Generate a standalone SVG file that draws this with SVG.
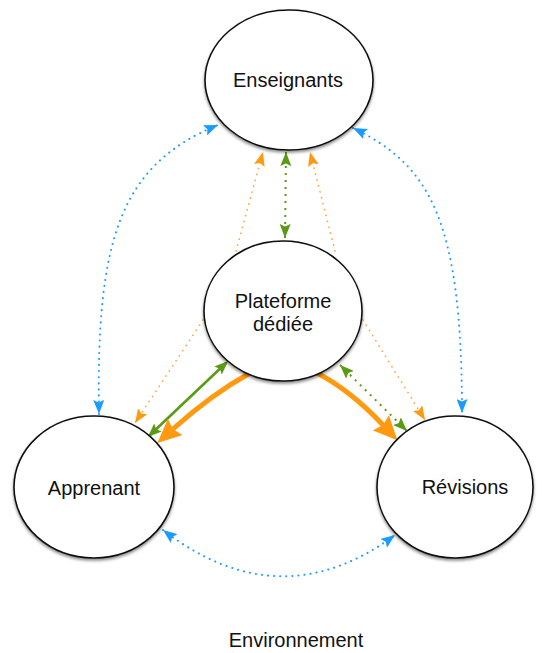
<svg xmlns="http://www.w3.org/2000/svg" width="544" height="653" viewBox="0 0 544 653">
<style>
.node ellipse{fill:#fff;stroke:#111;stroke-width:1.6;filter:url(#sh)}
.lbl{font-family:"Liberation Sans",Arial,sans-serif;font-size:20px;fill:#111;text-anchor:middle}
.blue{fill:none;stroke:#1a9bff;stroke-width:2;stroke-linecap:round;stroke-dasharray:0.1 6}
.odot{fill:none;stroke:#ffa43a;stroke-width:1.7;stroke-linecap:round;stroke-dasharray:0.1 6}
.gdot{fill:none;stroke:#5b9a16;stroke-width:2;stroke-dasharray:2 5}
.gsol{fill:none;stroke:#5b9a16;stroke-width:2.6}
.othick{fill:none;stroke:#ff9a10;stroke-width:5}
</style>
<defs>
<filter id="sh" x="-20%" y="-20%" width="140%" height="140%">
<feDropShadow dx="0" dy="2" stdDeviation="1.8" flood-color="#000" flood-opacity="0.45"/>
</filter>
<marker id="aB" viewBox="0 0 14 11" refX="14" refY="5.5" markerWidth="14" markerHeight="11" markerUnits="userSpaceOnUse" orient="auto-start-reverse"><path d="M0,0 L14,5.5 L0,11 L2.5,5.5 z" fill="#1a9bff"/></marker>
<marker id="aO" viewBox="0 0 14 11" refX="14" refY="5.5" markerWidth="14" markerHeight="11" markerUnits="userSpaceOnUse" orient="auto-start-reverse"><path d="M0,0 L14,5.5 L0,11 L2.5,5.5 z" fill="#ff9a10"/></marker>
<marker id="aG" viewBox="0 0 14 11" refX="14" refY="5.5" markerWidth="14" markerHeight="11" markerUnits="userSpaceOnUse" orient="auto-start-reverse"><path d="M0,0 L14,5.5 L0,11 L2.5,5.5 z" fill="#5b9a16"/></marker>
<marker id="aGs" viewBox="0 0 14 11" refX="11" refY="5.5" markerWidth="14" markerHeight="11" markerUnits="userSpaceOnUse" orient="auto-start-reverse"><path d="M0,0 L14,5.5 L0,11 L2.5,5.5 z" fill="#5b9a16"/></marker>
<marker id="aOB" viewBox="0 0 24 22" refX="3" refY="11" markerWidth="24" markerHeight="22" markerUnits="userSpaceOnUse" orient="auto"><path d="M0,0 L24,11 L0,22 L3,11 z" fill="#ff9a10"/></marker>
</defs>
<g id="connectors">
<path class="blue" d="M99,414 C96,240 120,165 218,125" marker-start="url(#aB)" marker-end="url(#aB)"/>
<path class="blue" d="M353,128 C430,165 462,220 462,413" marker-start="url(#aB)" marker-end="url(#aB)"/>
<path class="blue" d="M163,530 Q280,620 395,535" marker-start="url(#aB)" marker-end="url(#aB)"/>
<path class="odot" d="M236,251 L263,152" marker-end="url(#aO)"/>
<path class="odot" d="M335,251 L310,152" marker-end="url(#aO)"/>
<path class="gdot" d="M286,152 L285,238" marker-start="url(#aG)" marker-end="url(#aG)"/>
<path class="odot" d="M203,320 L135,423" marker-end="url(#aO)"/>
<path class="odot" d="M363,320 L425,420" marker-end="url(#aO)"/>
<path class="gsol" d="M226,363 L150,435" marker-start="url(#aGs)" marker-end="url(#aGs)"/>
<path class="gdot" d="M340,365 L407,431" marker-start="url(#aG)" marker-end="url(#aG)"/>
<path class="othick" d="M250,373 Q212,394 173,429" marker-end="url(#aOB)"/>
<path class="othick" d="M317,373 Q350,390 383,425" marker-end="url(#aOB)"/>
</g>
<g id="enseignants" class="node"><ellipse cx="289" cy="80" rx="84" ry="70"/><text class="lbl" x="288" y="87">Enseignants</text></g>
<g id="plateforme" class="node"><ellipse cx="283" cy="311" rx="79" ry="70"/><text class="lbl" x="283" y="308">Plateforme</text><text class="lbl" x="283" y="331">dédiée</text></g>
<g id="apprenant" class="node"><ellipse cx="94" cy="487" rx="80" ry="71"/><text class="lbl" x="94" y="495">Apprenant</text></g>
<g id="revisions" class="node"><ellipse cx="455" cy="487" rx="78" ry="71"/><text class="lbl" x="465" y="494">Révisions</text></g>
<text id="environnement" class="lbl" x="296" y="647">Environnement</text>
</svg>
